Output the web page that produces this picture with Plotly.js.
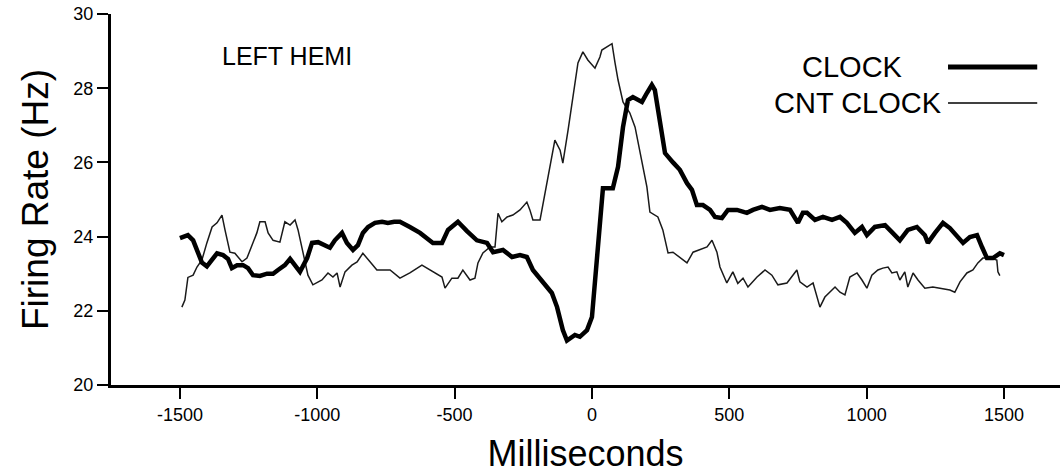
<!DOCTYPE html>
<html>
<head>
<meta charset="utf-8">
<script src="https://cdn.plot.ly/plotly-3.0.1.min.js"></script>
<style>html,body{margin:0;padding:0;background:#fff;}#chart{width:1060px;height:476px;}</style>
</head>
<body>
<div id="chart"></div>
<script>
// CLOCK (thick line)
const clockMs = [-1500,-1471,-1452,-1434,-1420,-1402,-1383,-1365,-1343,-1325,-1311,-1292,-1270,-1252,-1234,-1209,-1183,-1161,-1143,-1118,-1099,-1081,-1063,-1037,-1019,-997,-972,-954,-936,-910,-892,-870,-852,-834,-815,-790,-764,-743,-720,-699,-663,-626,-579,-546,-524,-488,-455,-419,-382,-360,-324,-291,-262,-237,-215,-178,-146,-127,-106,-91,-62,-44,-18,0,11,22,29,40,76,95,113,131,149,182,200,218,229,248,266,295,320,346,364,382,404,430,448,473,495,528,564,586,619,648,684,721,750,768,783,812,841,874,903,928,957,983,1001,1030,1067,1092,1121,1150,1183,1212,1223,1249,1278,1303,1329,1351,1376,1402,1420,1438,1460,1485,1500];
const clockHz = [23.96,24.04,23.9,23.6,23.3,23.2,23.4,23.55,23.5,23.4,23.15,23.23,23.23,23.15,22.96,22.94,23.0,23.0,23.1,23.23,23.4,23.23,23.05,23.42,23.83,23.85,23.77,23.7,23.9,24.1,23.83,23.64,23.77,24.1,24.26,24.37,24.4,24.37,24.4,24.4,24.26,24.1,23.83,23.83,24.18,24.4,24.15,23.9,23.83,23.58,23.64,23.45,23.5,23.45,23.1,22.78,22.48,22.1,21.48,21.2,21.35,21.3,21.48,21.83,22.8,23.7,24.5,25.3,25.3,25.88,26.95,27.68,27.76,27.63,27.87,28.09,27.95,27.06,26.25,26.0,25.8,25.44,25.26,24.85,24.85,24.72,24.53,24.5,24.72,24.72,24.64,24.72,24.8,24.72,24.77,24.72,24.37,24.64,24.64,24.45,24.53,24.45,24.53,24.37,24.1,24.26,24.04,24.26,24.31,24.12,23.9,24.18,24.26,24.04,23.83,24.1,24.37,24.23,23.99,23.83,23.99,24.04,23.72,23.42,23.42,23.55,23.5];

// CNT CLOCK (thin line)
const cntMs = [-1493,-1482,-1471,-1452,-1438,-1420,-1402,-1383,-1365,-1347,-1336,-1318,-1300,-1274,-1256,-1238,-1220,-1209,-1190,-1179,-1161,-1136,-1118,-1099,-1081,-1070,-1052,-1034,-1016,-983,-961,-943,-928,-917,-899,-874,-855,-834,-808,-783,-746,-735,-699,-663,-619,-579,-546,-535,-510,-488,-470,-444,-426,-415,-397,-371,-353,-342,-328,-309,-288,-262,-237,-226,-215,-189,-171,-153,-135,-116,-106,-87,-69,-51,-33,-15,11,29,36,73,84,95,113,138,157,182,200,211,240,258,277,295,320,346,368,393,419,437,455,466,491,513,531,550,568,601,630,655,677,710,746,757,783,805,823,830,848,874,885,903,921,939,965,983,1001,1019,1041,1059,1078,1092,1110,1121,1139,1150,1169,1187,1212,1241,1267,1303,1321,1340,1365,1387,1405,1423,1449,1474,1478,1485];
const cntHz = [22.1,22.29,22.9,22.96,23.18,23.37,23.83,24.26,24.37,24.58,24.18,23.58,23.55,23.32,23.42,23.77,24.1,24.4,24.4,24.1,23.9,23.85,24.4,24.31,24.45,24.18,23.55,22.96,22.7,22.83,23.02,22.91,23.02,22.64,23.05,23.23,23.32,23.55,23.32,23.1,23.1,23.1,22.88,23.02,23.23,23.05,22.91,22.61,22.88,22.88,23.1,22.83,22.88,23.29,23.56,23.72,23.72,24.63,24.4,24.53,24.58,24.72,24.93,24.72,24.45,24.45,25.18,25.8,26.6,26.33,25.98,26.87,27.76,28.68,28.98,28.76,28.54,28.84,29.03,29.2,28.68,28.22,27.63,27.33,26.95,25.98,25.34,24.66,24.53,24.18,23.56,23.58,23.45,23.29,23.58,23.64,23.72,23.9,23.58,23.18,22.75,23.05,22.74,22.88,22.64,22.91,23.1,22.96,22.7,22.75,23.1,22.78,22.64,22.75,22.29,22.1,22.37,22.56,22.64,22.5,22.43,22.91,23.02,22.83,22.61,22.96,23.1,23.15,23.18,23.02,23.05,22.83,23.05,22.64,23.02,22.83,22.61,22.64,22.61,22.56,22.5,22.78,23.02,23.1,23.29,23.42,23.42,23.37,23.05,22.95];

const xTicks = [-1500,-1000,-500,0,500,1000,1500];
const xTickText = ['-1500','-1000','-500','0','500','1000','1500'];
const yTicks = [20,22,24,26,28,30];
const yTickText = ['20','22','24','26','28','30'];
const seriesNames = ['CLOCK','CNT CLOCK'];
const panelLabel = 'LEFT HEMI';

const FONT = 'Liberation Sans, Arial, sans-serif';

const traces = [
  {x: cntMs, y: cntHz, type: 'scatter', mode: 'lines', name: seriesNames[1],
   line: {color: '#1a1a1a', width: 1.5}, showlegend: false},
  {x: clockMs, y: clockHz, type: 'scatter', mode: 'lines', name: seriesNames[0],
   line: {color: '#000000', width: 4.5}, showlegend: false}
];

const layout = {
  width: 1060, height: 476,
  margin: {l: 111, r: 0, t: 14, b: 91},
  paper_bgcolor: '#fff', plot_bgcolor: '#fff',
  font: {family: FONT, color: '#000'},
  xaxis: {
    range: [-1751, 1704], tickvals: xTicks, ticktext: xTickText,
    showline: true, linewidth: 3, linecolor: '#000', showgrid: false, zeroline: false,
    ticks: 'outside', ticklen: 11, tickwidth: 2, tickcolor: '#000',
    tickfont: {family: FONT, size: 18, color: '#000'},
    title: {text: 'Milliseconds', font: {family: FONT, size: 36, color: '#000'}, standoff: 18}
  },
  yaxis: {
    range: [20, 30], tickvals: yTicks, ticktext: yTickText,
    showline: true, linewidth: 3, linecolor: '#000', showgrid: false, zeroline: false,
    ticks: 'outside', ticklen: 11, tickwidth: 2, tickcolor: '#000',
    tickfont: {family: FONT, size: 18, color: '#000'},
    title: {text: 'Firing Rate (Hz)', font: {family: FONT, size: 37, color: '#000'}, standoff: 14}
  },
  annotations: [
    {xref: 'paper', yref: 'paper', x: 0.115, y: 0.887, xanchor: 'left', yanchor: 'middle',
     text: panelLabel, showarrow: false, font: {family: FONT, size: 25, color: '#000'}},
    {xref: 'paper', yref: 'paper', x: 0.837, y: 0.857, xanchor: 'right', yanchor: 'middle',
     text: seriesNames[0], showarrow: false, font: {family: FONT, size: 29, color: '#000'}},
    {xref: 'paper', yref: 'paper', x: 0.878, y: 0.760, xanchor: 'right', yanchor: 'middle',
     text: seriesNames[1], showarrow: false, font: {family: FONT, size: 29, color: '#000'}}
  ],
  shapes: [
    {type: 'line', xref: 'paper', yref: 'paper', x0: 0.882, x1: 0.976, y0: 0.857, y1: 0.857,
     line: {color: '#000', width: 5}},
    {type: 'line', xref: 'paper', yref: 'paper', x0: 0.882, x1: 0.976, y0: 0.760, y1: 0.760,
     line: {color: '#000', width: 1.5}}
  ]
};

Plotly.newPlot('chart', traces, layout, {staticPlot: true, displayModeBar: false});
</script>
</body>
</html>
